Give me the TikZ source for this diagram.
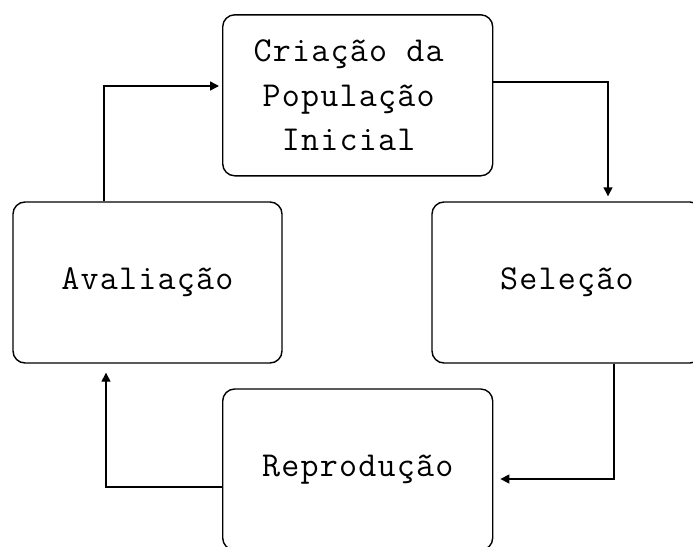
\documentclass[tikz,border=0pt]{standalone}
\usepackage{fontspec}
\newfontfamily\stagefont[LetterSpace=3.5]{Latin Modern Mono}
\usetikzlibrary{arrows.meta}
\tikzset{
  stagebox/.style={draw=black, line width=1.4pt, rounded corners=12pt, rectangle,
    minimum width=270pt, minimum height=161pt, inner sep=0pt, align=center,
    font=\stagefont\fontsize{35}{44.5}\selectfont},
  flow/.style={draw=black, line width=1.4pt,
    -{Triangle[width=9pt,length=9pt]}}
}
\begin{document}
\begin{tikzpicture}[x=1pt,y=-1pt]
\useasboundingbox[fill=white] (0,0) rectangle (693,546);
\node[stagebox] (top) at (357.7,95.3) {Criação da\hphantom{x}\\População\hphantom{x}\\Inicial\hphantom{x}};
\node[stagebox, minimum width=269pt] (left) at (147.5,282.5) {Avaliação};
\node[stagebox] (right) at (567,282.5) {Seleção};
\node[stagebox] (bottom) at (357.7,469.5) {Reprodução};
\coordinate (c1) at (608,82);
\coordinate (c2) at (614,479);
\coordinate (c3) at (106,487);
\coordinate (c4) at (104,86);
\draw[flow, shorten >=5pt] (top.east |- c1) -- (c1) -- (c1 |- right.north);
\draw[flow, shorten >=7pt] (c2 |- right.south) -- (c2) -- (c2 -| bottom.east);
\draw[flow, shorten >=9pt] (c3 -| bottom.west) -- (c3) -- (c3 |- left.south);
\draw[flow, shorten >=3pt] (c4 |- left.north) -- (c4) -- (c4 -| top.west);
\end{tikzpicture}
\end{document}
